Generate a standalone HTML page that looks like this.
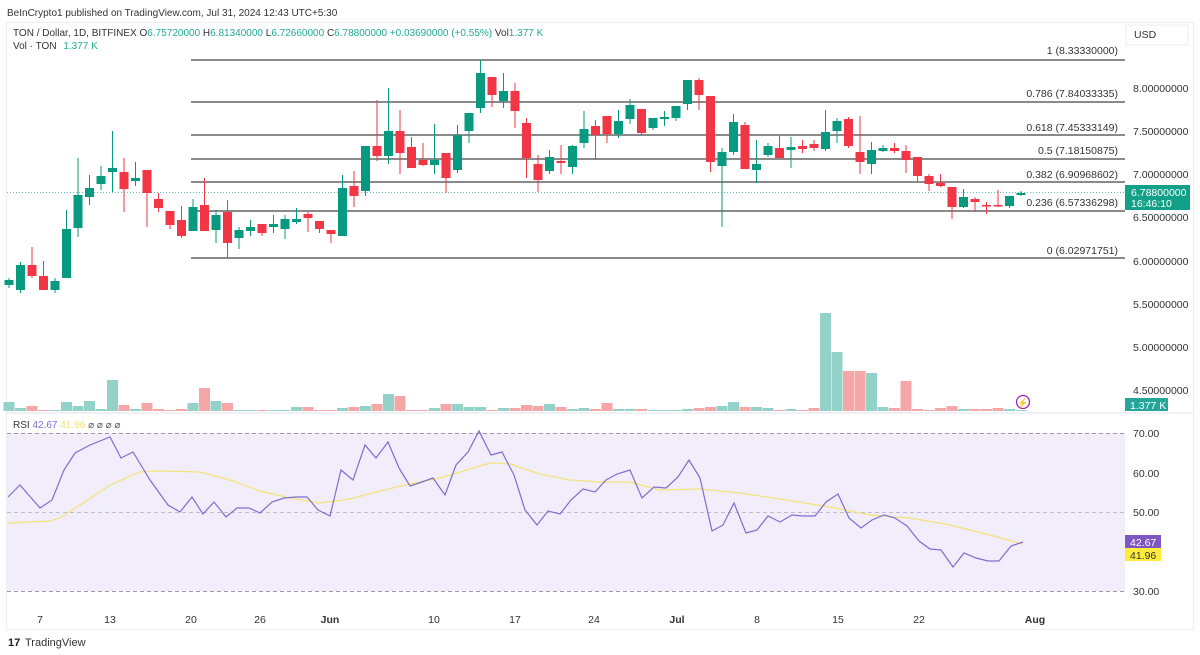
<!DOCTYPE html>
<html><head><meta charset="utf-8"><style>
html,body{margin:0;padding:0;background:#fff;width:1200px;height:655px;overflow:hidden}
svg{display:block;font-family:"Liberation Sans",sans-serif}
</style></head><body>
<svg id="s" width="1200" height="655" viewBox="0 0 1200 655">
<rect x="0" y="0" width="1200" height="655" fill="#fff"/>
<text x="7" y="16" font-size="10" fill="#333">BeInCrypto1 published on TradingView.com, Jul 31, 2024 12:43 UTC+5:30</text>
<rect x="6.5" y="22.5" width="1187" height="607" fill="none" stroke="#eceef2"/>
<line x1="7" y1="413" x2="1193" y2="413" stroke="#e0e3eb"/>
<text x="13" y="36" font-size="10" fill="#333">TON / Dollar, 1D, BITFINEX <tspan>O</tspan><tspan fill="#22ab94">6.75720000</tspan> H<tspan fill="#22ab94">6.81340000</tspan> L<tspan fill="#22ab94">6.72660000</tspan> C<tspan fill="#22ab94">6.78800000</tspan> <tspan fill="#22ab94">+0.03690000 (+0.55%)</tspan> Vol<tspan fill="#22ab94">1.377 K</tspan></text>
<text x="13" y="49" font-size="10" fill="#333">Vol · TON <tspan fill="#22ab94" dx="4">1.377 K</tspan></text>
<rect x="1126" y="25" width="62" height="20" fill="#fff" stroke="#eee"/>
<text x="1134" y="38" font-size="10.5" fill="#333">USD</text>
<rect x="7" y="433" width="1118" height="158" fill="#f1edfa"/>
<g stroke="#9a9aa6" stroke-dasharray="4,3" stroke-width="1">
<line x1="7" y1="433.5" x2="1125" y2="433.5"/><line x1="7" y1="512.5" x2="1125" y2="512.5" stroke="#c0bccc"/><line x1="7" y1="591.5" x2="1125" y2="591.5"/></g>
<g id="fib" stroke="#444" stroke-width="1.2">
<line x1="191" y1="60" x2="1125" y2="60"/><line x1="191" y1="102" x2="1125" y2="102"/><line x1="191" y1="135" x2="1125" y2="135"/><line x1="191" y1="159" x2="1125" y2="159"/><line x1="191" y1="182" x2="1125" y2="182"/><line x1="191" y1="211" x2="1125" y2="211"/><line x1="191" y1="258" x2="1125" y2="258"/></g>
<g font-size="10.5" fill="#333" text-anchor="end">
<text x="1118" y="54">1 (8.33330000)</text><text x="1118" y="97">0.786 (7.84033335)</text><text x="1118" y="131">0.618 (7.45333149)</text><text x="1118" y="154">0.5 (7.18150875)</text><text x="1118" y="178">0.382 (6.90968602)</text><text x="1118" y="206">0.236 (6.57336298)</text><text x="1118" y="254">0 (6.02971751)</text></g>
<line x1="7" y1="192.5" x2="1125" y2="192.5" stroke="#22ab94" stroke-dasharray="1,2" opacity="0.7"/>
<g id="vol"></g><g id="cdl"></g>
<polyline id="ma" fill="none" stroke="#f4e37a" stroke-width="1.2"/>
<polyline id="rsi" fill="none" stroke="#7e6fcf" stroke-width="1.2"/>
<g font-size="10.5" fill="#333">
<text x="1133" y="92">8.00000000</text><text x="1133" y="135">7.50000000</text><text x="1133" y="178">7.00000000</text><text x="1133" y="221">6.50000000</text><text x="1133" y="265">6.00000000</text><text x="1133" y="308">5.50000000</text><text x="1133" y="351">5.00000000</text><text x="1133" y="394">4.50000000</text>
<text x="1133" y="437">70.00</text><text x="1133" y="477">60.00</text><text x="1133" y="516">50.00</text><text x="1133" y="595">30.00</text></g>
<rect x="1125" y="185" width="65" height="25" fill="#12a088"/>
<text x="1131" y="196" font-size="10.5" fill="#fff">6.78800000</text><text x="1131" y="207" font-size="10.5" fill="#fff">16:46:10</text>
<rect x="1125" y="398" width="43" height="13" fill="#26a69a"/><text x="1130" y="409" font-size="10.5" fill="#fff">1.377 K</text>
<rect x="1125" y="535" width="36" height="13" fill="#7e57c2"/><text x="1130" y="546" font-size="10.5" fill="#fff">42.67</text>
<rect x="1125" y="548" width="36" height="13" fill="#ffeb3b"/><text x="1130" y="559" font-size="10.5" fill="#333">41.96</text>
<circle cx="1023" cy="402" r="6.5" fill="#fff" stroke="#9c27b0" stroke-width="1.3"/><text x="1023" y="406" font-size="9" fill="#9c27b0" text-anchor="middle">⚡</text>
<text x="13" y="428" font-size="10" fill="#333">RSI <tspan fill="#7e6fcf">42.67</tspan> <tspan fill="#f4e37a">41.96</tspan> <tspan fill="#555">⌀ ⌀ ⌀ ⌀</tspan></text>
<g font-size="10.5" fill="#333" text-anchor="middle">
<text x="40" y="623">7</text><text x="110" y="623">13</text><text x="191" y="623">20</text><text x="260" y="623">26</text><text x="330" y="623" font-weight="bold">Jun</text><text x="434" y="623">10</text><text x="515" y="623">17</text><text x="594" y="623">24</text><text x="677" y="623" font-weight="bold">Jul</text><text x="757" y="623">8</text><text x="838" y="623">15</text><text x="919" y="623">22</text><text x="1035" y="623" font-weight="bold">Aug</text></g>
<text x="8" y="646" font-size="11" fill="#222" font-weight="bold">17</text>
<text x="25" y="646" font-size="11" fill="#333">TradingView</text>
</svg>
<script>
var C=[["g",280,285,278,288],["g",265,290,262,293],["r",265,276,247,278],["r",276,290,261,290],["g",281,290,278,293],["g",229,278,210,278],["g",195,228,158,237],["g",188,197,175,205],["g",176,184,166,190],["g",168,172,131,192],["r",172,189,158,212],["g",178,181,162,186],["r",170,193,170,227],["r",199,208,193,212],["r",211,225,211,229],["r",220,236,206,238],["g",207,231,199,231],["r",205,231,178,231],["g",215,230,210,243],["r",212,243,200,258],["g",230,238,227,249],["g",227,231,220,236],["r",224,233,224,236],["g",224,227,215,233],["g",219,229,215,239],["g",219,222,208,224],["r",214,218,211,232],["r",221,229,221,233],["r",230,234,230,243],["g",188,236,175,236],["r",186,196,171,207],["g",146,191,146,196],["r",146,156,100,161],["g",131,156,88,164],["r",131,153,110,174],["r",147,168,137,168],["r",160,165,143,166],["g",160,165,124,174],["r",153,178,153,193],["g",135,170,125,173],["g",113,131,113,143],["g",73,108,60,113],["r",77,95,77,107],["g",91,101,73,108],["r",91,111,83,128],["r",123,158,118,178],["r",164,180,155,192],["g",157,171,150,174],["r",161,163,145,174],["g",146,167,145,174],["g",129,143,111,148],["r",126,135,120,160],["r",116,134,116,143],["g",121,134,110,138],["g",105,119,99,124],["r",109,133,109,135],["g",118,128,118,130],["g",117,119,111,126],["g",106,118,106,121],["g",80,104,80,110],["r",80,95,78,110],["r",96,162,96,172],["g",152,166,148,227],["g",122,152,114,155],["r",125,169,122,169],["g",164,170,140,183],["g",146,155,143,157],["r",148,158,136,158],["g",147,150,137,168],["r",146,149,140,153],["r",144,148,140,151],["g",132,149,110,151],["g",121,131,118,143],["r",119,146,117,148],["r",152,162,116,174],["g",150,164,142,174],["g",148,151,145,152],["r",148,151,143,153],["r",151,160,145,173],["r",157,176,157,181],["r",176,184,174,191],["r",183,186,174,187],["r",187,207,187,219],["g",197,207,189,208],["r",199,202,197,212],["r",205,206,202,214],["r",205,206,190,207],["g",196,206,196,208],["g",193,195,191,196]];
var V=[9,3,5,1,1,9,5,10,2,31,6,2,8,2,1,2,8,23,10,8,1,1,1,1,1,4,4,1,1,3,4,5,7,17,15,1,1,3,7,7,4,4,1,3,3,6,5,7,4,2,3,2,8,2,2,2,1,1,1,2,3,4,5,9,4,4,3,1,2,1,3,98,59,40,40,38,4,3,30,2,1,3,5,2,2,2,3,2,1];
var NS="http://www.w3.org/2000/svg";
function el(t,a,p){var e=document.createElementNS(NS,t);for(var k in a)e.setAttribute(k,a[k]);p.appendChild(e);}
var cg=document.getElementById("cdl"),vg=document.getElementById("vol");
for(var i=0;i<C.length;i++){var c=C[i],x=9+11.5*i,col=c[0]=="g"?"#089981":"#f23645";
el("line",{x1:x,x2:x,y1:c[3],y2:c[4],stroke:col,"stroke-width":1},cg);
el("rect",{x:x-4.5,y:c[1],width:9,height:Math.max(1.5,c[2]-c[1]),fill:col},cg);
var h=V[i]||1;el("rect",{x:x-5.5,y:411-h,width:11,height:h,fill:c[0]=="g"?"#92d2c8":"#f5a6a6"},vg);}
document.getElementById("rsi").setAttribute("points","8,497 20,485 40,508 52,500 64,470 75,453 90,445 110,437 121,458 133,452 150,480 168,505 180,512 192,497 203,514 214,502 226,517 237,508 249,508 260,513 272,502 284,498 296,497 307,497 318,510 330,516 341,470 353,480 365,445 376,458 388,442 399,468 410,486 422,482 433,478 445,495 456,465 468,452 479,431 491,455 502,452 514,475 525,510 537,525 548,511 560,514 571,500 583,489 595,492 606,480 617,474 630,470 642,498 654,487 666,488 678,477 689,460 700,478 712,531 723,525 734,503 746,533 757,530 768,516 780,522 792,515 803,516 815,516 826,502 838,494 849,518 861,528 872,520 884,515 895,518 907,526 919,541 930,549 941,550 953,567 964,553 976,558 988,561 999,561 1011,546 1023,542");
document.getElementById("ma").setAttribute("points","8,523 50,521 60,518 80,505 110,485 140,472 160,471 200,472 230,480 260,491 290,498 320,503 350,499 380,491 410,484 440,478 470,469 490,463 510,464 540,474 570,480 600,482 630,482 660,490 700,489 740,493 780,499 830,507 870,515 910,518 950,525 990,535 1023,544");
</script>
</body></html>
